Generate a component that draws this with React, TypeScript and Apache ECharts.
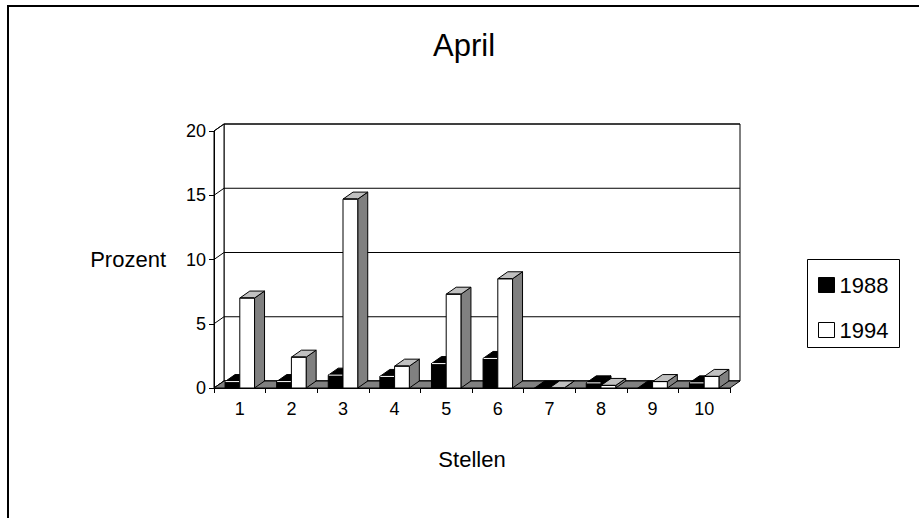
import React, { useEffect, useRef } from 'react';
import * as echarts from 'echarts';

// Share of "Stellen" per class, April survey
const categories = ['1', '2', '3', '4', '5', '6', '7', '8', '9', '10'];
const values1988 = [0.5, 0.5, 1.0, 0.9, 1.9, 2.3, 0, 0.4, 0, 0.4];
const values1994 = [7.0, 2.4, 14.7, 1.7, 7.3, 8.5, 0, 0.2, 0.5, 0.9];
const yTicks = [0, 5, 10, 15, 20];
const seriesNames = ['1988', '1994'];

const FONT = "'Liberation Sans', Arial, sans-serif";
// oblique depth of the 3D box (pixels)
const DEPTH_X = 10;
const DEPTH_Y = -7;

type Faces = { front: string; top: string; side: string; stroke: string; edge: string };

const faces1988: Faces = { front: '#000000', top: '#000000', side: '#000000', stroke: '#000000', edge: '#ffffff' };
const faces1994: Faces = { front: '#ffffff', top: '#c0c0c0', side: '#808080', stroke: '#000000', edge: '#000000' };

function wallRenderer(params: any, api: any) {
  const band = api.size([1, 0])[0];
  const xL = api.coord([0, 0])[0] - band / 2;
  const xR = api.coord([categories.length - 1, 0])[0] + band / 2;
  const yB = api.coord([0, yTicks[0]])[1];
  const yT = api.coord([0, yTicks[yTicks.length - 1]])[1];
  const dx = DEPTH_X;
  const dy = DEPTH_Y;
  const lineStyle = { stroke: '#000', lineWidth: 1, fill: 'none' };
  const children: any[] = [
    {
      type: 'polygon',
      shape: { points: [[xL + dx, yT + dy], [xR + dx, yT + dy], [xR + dx, yB + dy], [xL + dx, yB + dy]] },
      style: { fill: '#fff', stroke: '#000', lineWidth: 1 },
    },
    {
      type: 'polygon',
      shape: { points: [[xL, yT], [xL + dx, yT + dy], [xL + dx, yB + dy], [xL, yB]] },
      style: { fill: '#fff', stroke: '#000', lineWidth: 1 },
    },
  ];
  yTicks.forEach((t) => {
    const y = api.coord([0, t])[1];
    children.push({
      type: 'polyline',
      shape: { points: [[xL, y], [xL + dx, y + dy], [xR + dx, y + dy]] },
      style: lineStyle,
    });
  });
  children.push({
    type: 'polygon',
    shape: { points: [[xL, yB], [xR, yB], [xR + dx, yB + dy], [xL + dx, yB + dy]] },
    style: { fill: '#808080', stroke: '#000', lineWidth: 1 },
  });
  return { type: 'group', children };
}

function barRenderer(slot: number, f: Faces) {
  return (params: any, api: any) => {
    const idx = api.value(0);
    const val = api.value(1);
    const band = api.size([1, 0])[0];
    const barW = band / 3.5;
    const base = api.coord([idx, 0]);
    const cx = base[0];
    const yB = base[1];
    const yT = api.coord([idx, val])[1];
    const x0 = slot === 0 ? cx - barW : cx;
    const x1 = x0 + barW;
    const dx = DEPTH_X;
    const dy = DEPTH_Y;
    const children: any[] = [
      {
        type: 'polygon',
        shape: { points: [[x1, yT], [x1 + dx, yT + dy], [x1 + dx, yB + dy], [x1, yB]] },
        style: { fill: f.side, stroke: f.stroke, lineWidth: 1 },
      },
      {
        type: 'polygon',
        shape: { points: [[x0, yT], [x1, yT], [x1 + dx, yT + dy], [x0 + dx, yT + dy]] },
        style: { fill: f.top, stroke: f.stroke, lineWidth: 1 },
      },
      {
        type: 'rect',
        shape: { x: x0, y: yT, width: barW, height: yB - yT },
        style: { fill: f.front, stroke: f.stroke, lineWidth: 1 },
      },
    ];
    if (val > 0) {
      children.push({
        type: 'line',
        shape: { x1: x0 + 0.5, y1: yT, x2: x1 - 0.5, y2: yT },
        style: { stroke: f.edge, lineWidth: 1 },
      });
    }
    return { type: 'group', children };
  };
}

export default function App() {
  const ref = useRef<HTMLDivElement>(null);

  useEffect(() => {
    if (!ref.current) return;
    const chart = echarts.init(ref.current, undefined, { renderer: 'svg' });
    chart.setOption({
      animation: false,
      backgroundColor: '#ffffff',
      title: {
        text: 'April',
        left: 464,
        textAlign: 'center',
        top: 30,
        padding: 0,
        textStyle: { fontFamily: FONT, fontSize: 31, fontWeight: 'normal', color: '#000' },
      },
      legend: {
        orient: 'vertical',
        left: 807,
        top: 259,
        padding: [15, 0, 7, 11],
        itemGap: 23,
        itemWidth: 16,
        itemHeight: 15,
        selectedMode: false,
        textStyle: { fontFamily: FONT, fontSize: 22, color: '#000' },
        data: [
          { name: seriesNames[0], icon: 'rect', itemStyle: { color: '#000', borderColor: '#000', borderWidth: 1 } },
          { name: seriesNames[1], icon: 'rect', itemStyle: { color: '#fff', borderColor: '#000', borderWidth: 1 } },
        ],
      },
      graphic: [
        {
          type: 'rect',
          shape: { x: 8, y: 6, width: 1000, height: 1000 },
          style: { fill: 'none', stroke: '#000', lineWidth: 2 },
          silent: true,
        },
        {
          type: 'rect',
          shape: { x: 807.5, y: 259.5, width: 92, height: 88 },
          style: { fill: 'none', stroke: '#000', lineWidth: 1 },
          silent: true,
        },
      ],
      grid: { left: 214, top: 131, width: 516, height: 257 },
      xAxis: {
        type: 'category',
        data: categories,
        z: 5,
        name: 'Stellen',
        nameLocation: 'middle',
        nameGap: 71,
        nameTextStyle: { fontFamily: FONT, fontSize: 22, color: '#000', verticalAlign: 'middle' },
        axisLine: { lineStyle: { color: '#000', width: 1 } },
        axisTick: { show: true, length: 5, interval: 0, lineStyle: { color: '#000' } },
        axisLabel: { fontFamily: FONT, fontSize: 18, color: '#000', margin: 12, interval: 0 },
        splitLine: { show: false },
      },
      yAxis: {
        type: 'value',
        min: 0,
        max: 20,
        interval: 5,
        z: 5,
        name: 'Prozent',
        nameLocation: 'middle',
        nameRotate: 0,
        nameGap: 48,
        nameTextStyle: { fontFamily: FONT, fontSize: 22, color: '#000', align: 'right', verticalAlign: 'middle' },
        axisLine: { show: true, lineStyle: { color: '#000', width: 1 } },
        axisTick: { show: true, length: 5, lineStyle: { color: '#000' } },
        axisLabel: { fontFamily: FONT, fontSize: 18, color: '#000', margin: 8 },
        splitLine: { show: false },
      },
      series: [
        {
          type: 'custom',
          name: 'walls',
          clip: false,
          z: 1,
          silent: true,
          renderItem: wallRenderer,
          encode: { x: 0, y: 1 },
          data: [[0, 0]],
        },
        {
          type: 'custom',
          name: seriesNames[0],
          clip: false,
          z: 2,
          itemStyle: { color: '#000' },
          renderItem: barRenderer(0, faces1988),
          encode: { x: 0, y: 1 },
          data: values1988.map((v, i) => [i, v]),
        },
        {
          type: 'custom',
          name: seriesNames[1],
          clip: false,
          z: 3,
          itemStyle: { color: '#fff', borderColor: '#000' },
          renderItem: barRenderer(1, faces1994),
          encode: { x: 0, y: 1 },
          data: values1994.map((v, i) => [i, v]),
        },
      ],
    });
    return () => chart.dispose();
  }, []);

  return (
    <div
      ref={ref}
      style={{ position: 'fixed', left: 0, top: 0, width: 919, height: 518, background: '#fff' }}
    />
  );
}
